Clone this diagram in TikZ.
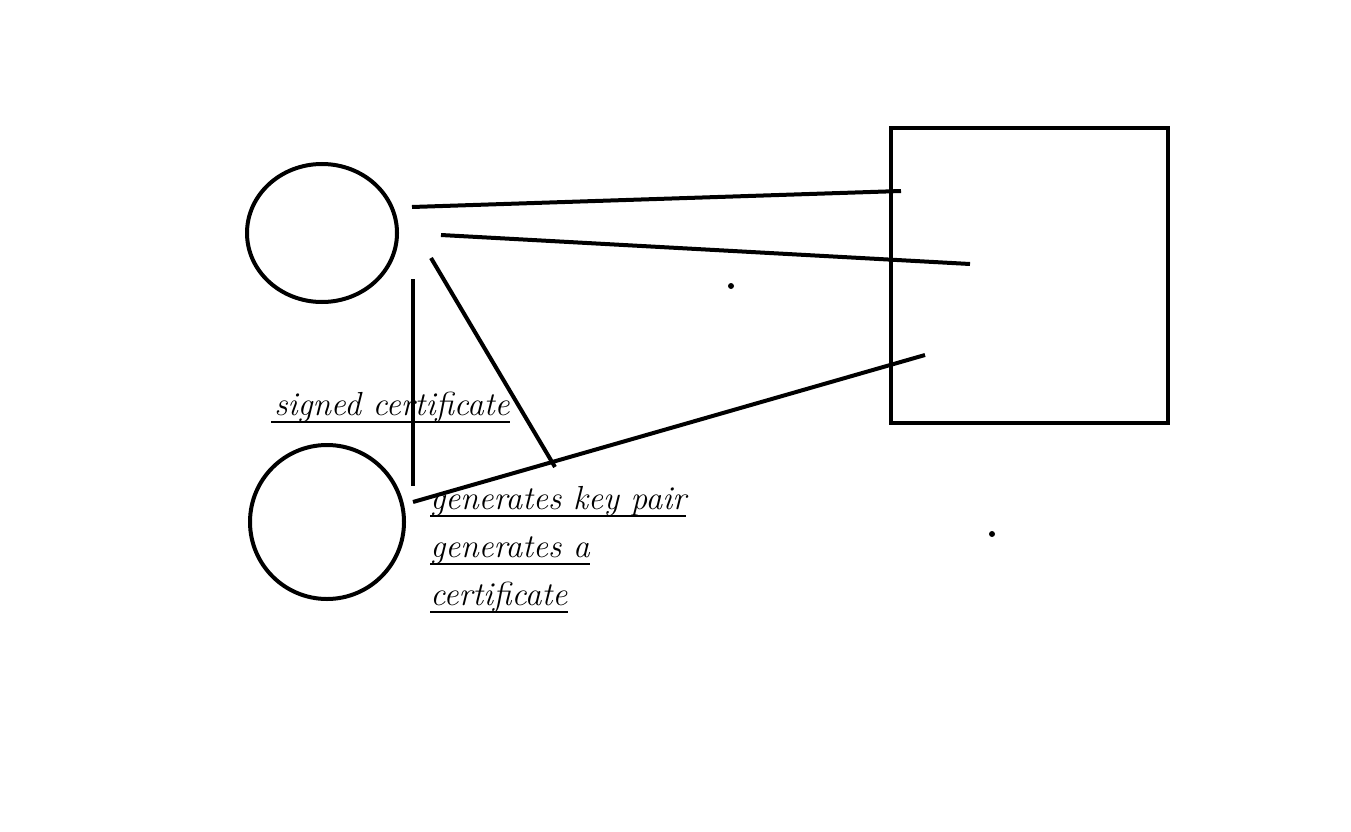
\documentclass[tikz,border=0pt]{standalone}
\begin{document}
\begin{tikzpicture}[x=0.75pt,y=-0.75pt,
  shape line/.style={line width=3pt},
  conn/.style={line width=3pt},
  lbl/.style={inner sep=0pt,anchor=base west,font=\fontsize{25}{30}\selectfont\itshape},
  uline/.style={line width=1.4pt}]
\useasboundingbox[fill=white] (0,0) rectangle (1351,831);
% shapes
\draw[shape line] (322,233) ellipse [x radius=75, y radius=69];
\node (c1) at (322,233) {};
\draw[shape line] (327,522) ellipse [x radius=77, y radius=77];
\node (c2) at (327,522) {};
\draw[shape line] (891,128) rectangle (1168,423);
\node (box) at (1029,275) {};
% dots
\fill (731,286) circle [radius=3];
\fill (992,534) circle [radius=3];
% connector ends
\coordinate (a1) at (412,207); \coordinate (a2) at (901,191);
\coordinate (b1) at (441,235); \coordinate (b2) at (970,264);
\coordinate (d1) at (431,258); \coordinate (d2) at (555,467);
\coordinate (e1) at (413,279); \coordinate (e2) at (413,486);
\coordinate (f1) at (413,502); \coordinate (f2) at (925,355);
\draw[conn] (a1) -- (a2);
\draw[conn] (b1) -- (b2);
\draw[conn] (d1) -- (d2);
\draw[conn] (e1) -- (e2);
\draw[conn] (f1) -- (f2);
% labels
\node[lbl] (t1) at (274,415) {signed certificate};
\node[lbl] (t2) at (430,509) {generates key pair};
\node[lbl] (t3) at (430,557) {generates a};
\node[lbl] (t4) at (430,605) {certificate};
\draw[uline] ([xshift=-2pt,yshift=-5.5pt]t1.base west) -- ([yshift=-5.5pt]t1.base east);
\draw[uline] ([yshift=-5pt]t2.base west) -- ([yshift=-5pt]t2.base east);
\draw[uline] ([yshift=-5pt]t3.base west) -- ([yshift=-5pt]t3.base east);
\draw[uline] ([yshift=-5pt]t4.base west) -- ([yshift=-5pt]t4.base east);
\end{tikzpicture}
\end{document}
